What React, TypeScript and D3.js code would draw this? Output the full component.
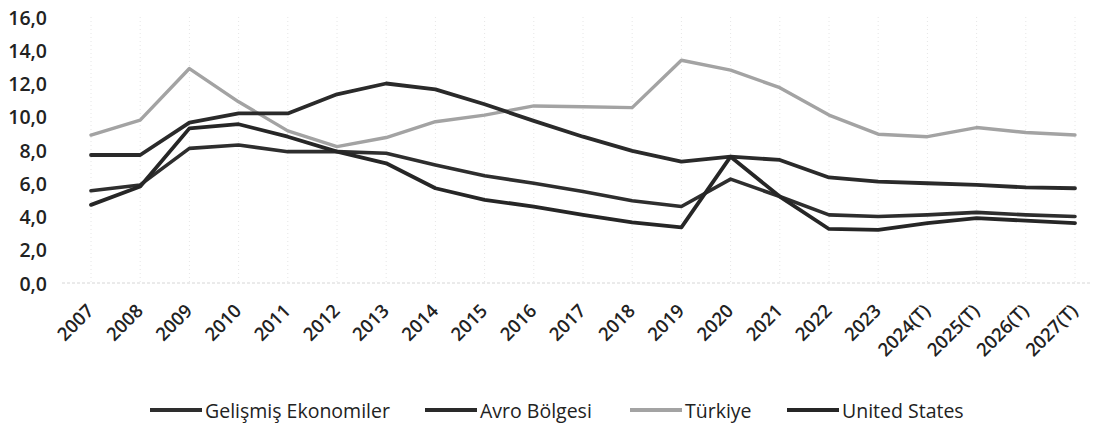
import React from "react";
import * as d3 from "d3";

const categories = ["2007","2008","2009","2010","2011","2012","2013","2014","2015","2016","2017","2018","2019","2020","2021","2022","2023","2024(T)","2025(T)","2026(T)","2027(T)"];
const gelismis = [5.55,5.9,8.1,8.3,7.9,7.9,7.8,7.1,6.45,6.0,5.5,4.95,4.6,6.25,5.2,4.1,4.0,4.1,4.25,4.1,4.0];
const avro = [7.7,7.7,9.65,10.2,10.2,11.35,12.0,11.65,10.75,9.75,8.8,7.95,7.3,7.6,7.4,6.35,6.1,6.0,5.9,5.75,5.7];
const turkiye = [8.9,9.8,12.9,10.9,9.15,8.2,8.75,9.7,10.1,10.65,10.6,10.55,13.4,12.8,11.75,10.1,8.95,8.8,9.35,9.05,8.9];
const us = [4.7,5.8,9.3,9.55,8.8,7.9,7.2,5.7,5.0,4.6,4.1,3.65,3.35,7.6,5.2,3.25,3.2,3.6,3.9,3.75,3.6];
const yTicks = [0,2,4,6,8,10,12,14,16];
const seriesNames = ["Gelişmiş Ekonomiler","Avro Bölgesi","Türkiye","United States"];

const W = 1094, H = 427;
const FONT = "'Open Sans', sans-serif";

export default function App() {
  const x = d3.scalePoint<string>().domain(categories).range([91, 1075]);
  const y = d3.scaleLinear().domain([0, 16]).range([283, 17]);
  const line = d3.line<number>().x((_, i) => x(categories[i]) as number).y(d => y(d));

  const series = [
    { name: seriesNames[0], values: gelismis, color: "#2e2e2e", width: 3.6 },
    { name: seriesNames[1], values: avro, color: "#2a2a2a", width: 3.8 },
    { name: seriesNames[2], values: turkiye, color: "#a3a3a3", width: 3.4 },
    { name: seriesNames[3], values: us, color: "#262626", width: 3.8 },
  ];
  const drawOrder = [2, 0, 1, 3];

  const legendItems = [
    { s: series[0], x0: 150 },
    { s: series[1], x0: 425 },
    { s: series[2], x0: 630 },
    { s: series[3], x0: 787 },
  ];

  return (
    <svg width={W} height={H} style={{ position: "absolute", left: 0, top: 0, background: "#fff" }}>
      {categories.map(c => (
        <line key={"g" + c} x1={x(c)} x2={x(c)} y1={y(16)} y2={y(0)}
          stroke="#e6e6e6" strokeWidth={1} strokeDasharray="1,3" />
      ))}
      <line x1={62} x2={1090} y1={y(0)} y2={y(0)} stroke="#d6d6d6" strokeWidth={1} strokeDasharray="3,2" />
      {yTicks.map(t => (
        <text key={"y" + t} x={47} y={y(t)} textAnchor="end" dominantBaseline="central"
          fontFamily={FONT} fontSize={19.5} fontWeight={600} fill="#222">
          {d3.format(".1f")(t).replace(".", ",")}
        </text>
      ))}
      {categories.map(c => (
        <text key={"x" + c} transform={`translate(${(x(c) as number) + 4},312) rotate(-45)`}
          textAnchor="end" fontFamily={FONT} fontSize={18.5} fontWeight={600} fill="#222">
          {c}
        </text>
      ))}
      {drawOrder.map(i => (
        <path key={"l" + i} d={line(series[i].values) || ""} fill="none"
          stroke={series[i].color} strokeWidth={series[i].width} strokeLinejoin="round" strokeLinecap="round" />
      ))}
      {legendItems.map(({ s, x0 }) => (
        <g key={"lg" + s.name}>
          <line x1={x0} x2={x0 + 52} y1={410} y2={410} stroke={s.color} strokeWidth={4} />
          <text x={x0 + 55} y={410} dominantBaseline="central" fontFamily={FONT} fontSize={19.5} fill="#222">
            {s.name}
          </text>
        </g>
      ))}
    </svg>
  );
}
